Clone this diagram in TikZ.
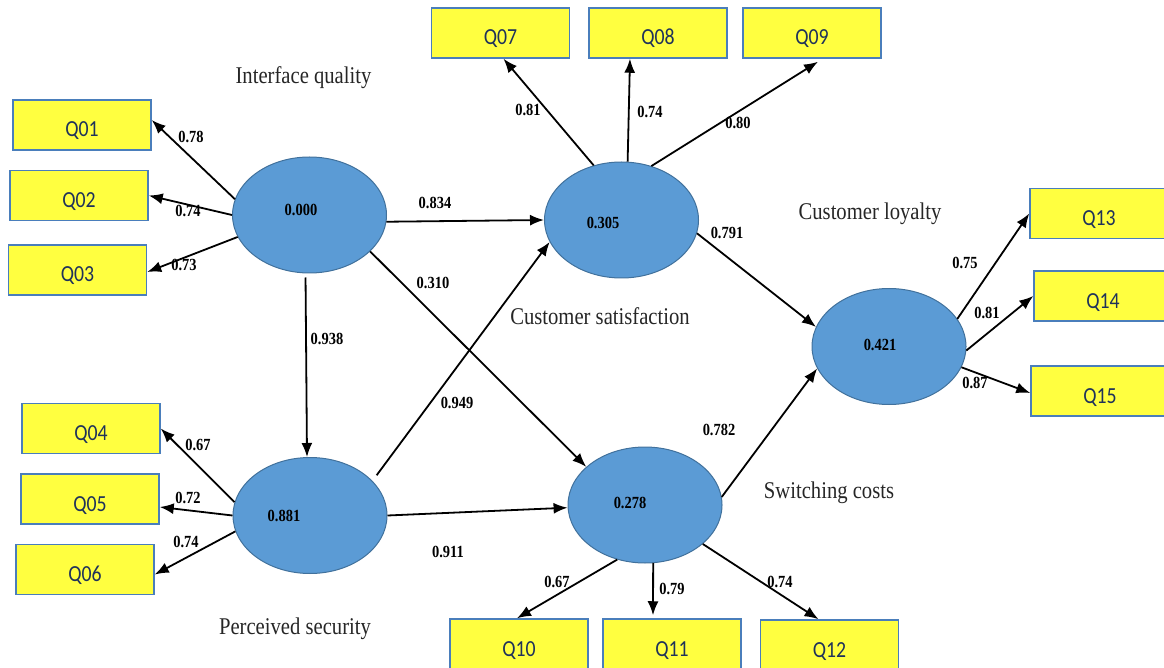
\documentclass[tikz,border=0pt]{standalone}
\usepackage{fontspec}
\setmainfont{Liberation Serif}
\newfontfamily\qfont{Carlito}
\usetikzlibrary{shapes.geometric,arrows.meta}
\definecolor{ellfill}{RGB}{91,155,213}
\definecolor{ellline}{RGB}{65,113,156}
\definecolor{boxfill}{RGB}{255,255,64}
\definecolor{boxline}{RGB}{74,126,187}
\definecolor{qtext}{RGB}{31,50,90}
\newcommand{\hsq}[2][0.85]{\scalebox{#1}[1]{#2}}
\newcommand{\qlab}[1]{\raisebox{-12pt}[0pt][0pt]{\scalebox{0.86}[1]{#1}}}
\begin{document}
\begin{tikzpicture}[x=1pt,y=-1pt,
 latent/.style={ellipse, draw=ellline, line width=1pt, fill=ellfill, minimum width=154pt, minimum height=116pt, inner sep=0pt},
 ind/.style={rectangle, draw=boxline, line width=1.5pt, fill=boxfill, minimum width=138pt, minimum height=50pt, inner sep=0pt, font=\qfont\fontsize{23}{23}\selectfont, text=qtext},
 coef/.style={font=\bfseries\fontsize{17}{17}\selectfont, inner sep=0pt},
 ttl/.style={font=\fontsize{24}{24}\selectfont, inner sep=0pt, text=black!85},
 arr/.style={-{Latex[length=14pt,width=11pt]}, line width=1.8pt}]
\useasboundingbox (0,0) rectangle (1164,668);

% indicator boxes
\node[ind] (q01) at (82,125) {\qlab{Q01}};
\node[ind] (q02) at (79,195.5) {\qlab{Q02}};
\node[ind] (q03) at (77.5,270) {\qlab{Q03}};
\node[ind] (q04) at (91,428.5) {\qlab{Q04}};
\node[ind] (q05) at (90,499) {\qlab{Q05}};
\node[ind] (q06) at (85,569.5) {\qlab{Q06}};
\node[ind] (q07) at (500.5,33) {\qlab{Q07}};
\node[ind] (q08) at (658,33) {\qlab{Q08}};
\node[ind] (q09) at (812,33) {\qlab{Q09}};
\node[ind] (q10) at (519,644) {\qlab{Q10}};
\node[ind] (q11) at (672,644) {\qlab{Q11}};
\node[ind] (q12) at (829.5,645) {\qlab{Q12}};
\node[ind] (q13) at (1099,213.5) {\qlab{Q13}};
\node[ind] (q14) at (1103,296) {\qlab{Q14}};
\node[ind] (q15) at (1100,391) {\qlab{Q15}};

% latent variables
\node[latent] (e1) at (309.5,215) {};
\node[latent] (e2) at (310,515.5) {};
\node[latent] (e3) at (621.5,220) {};
\node[latent] (e4) at (645,505) {};
\node[latent] (e5) at (889,346.5) {};

\node[coef] (v1) at (301,210) {\hsq{0.000}};
\node[coef] (v2) at (284,516) {\hsq{0.881}};
\node[coef] (v3) at (603,223) {\hsq{0.305}};
\node[coef] (v4) at (630,503) {\hsq{0.278}};
\node[coef] (v5) at (880,345) {\hsq{0.421}};

% titles
\node[ttl] (t1) at (303.5,78) {\hsq[0.86]{Interface quality}};
\node[ttl] (t2) at (600,316) {\hsq[0.86]{Customer satisfaction}};
\node[ttl] (t3) at (870,214) {\hsq[0.86]{Customer loyalty}};
\node[ttl] (t4) at (829,493) {\hsq[0.86]{Switching costs}};
\node[ttl] (t5) at (295,629) {\hsq[0.86]{Perceived security}};

% measurement arrows
\draw[arr] (e1.168) -- ([yshift=5pt]q01.east);
\draw[arr] (e1.180) -- (q02.east);
\draw[arr] (e1.197) -- ([yshift=-2pt]q03.east);
\draw[arr] (e2.170) -- (q04.east);
\draw[arr] (e2.180) -- ([yshift=-8pt]q05.east);
\draw[arr] (e2.192) -- ([yshift=-5pt]q06.east);
\draw[arr] (e3.117) -- ([xshift=3pt]q07.south);
\draw[arr] (e3.84) -- ([xshift=-28pt]q08.south);
\draw[arr] (e3.61) -- ([xshift=6pt,yshift=-3pt]q09.south);
\draw[arr] (e4.243) -- ([xshift=-2pt]q10.north);
\draw[arr] (e4.278) -- ([xshift=-19pt,yshift=3pt]q11.north);
\draw[arr] (e4.326) -- ([xshift=-11pt]q12.north);
\draw[arr] (e5.22) -- (q13.west);
\draw[arr] (e5.357) -- (q14.west);
\draw[arr] (e5.344) -- ([yshift=-2pt]q15.west);

% structural arrows
\draw[arr] (e1.355) -- (e3.west);
\draw[arr] (e1.329) -- (e4.147);
\draw[arr, shorten <=4pt] ([xshift=-4pt]e1.south) -- ([xshift=-3pt]e2.north);
\draw[arr, shorten <=7pt] (e2.29) -- (e3.197);
\draw[arr] (e2.east) -- (e4.182);
\draw[arr] (e3.350) -- (e5.165);
\draw[arr] (e4.6) -- (e5.197);

% coefficients
\node[coef] (c01) at (191,137) {\hsq{0.78}};
\node[coef] (c02) at (188,211) {\hsq{0.74}};
\node[coef] (c03) at (184,265) {\hsq{0.73}};
\node[coef] (c04) at (198,445) {\hsq{0.67}};
\node[coef] (c05) at (188,498) {\hsq{0.72}};
\node[coef] (c06) at (186,542) {\hsq{0.74}};
\node[coef] (c07) at (528,110) {\hsq{0.81}};
\node[coef] (c08) at (650,112) {\hsq{0.74}};
\node[coef] (c09) at (738,123) {\hsq{0.80}};
\node[coef] (c10) at (557,582) {\hsq{0.67}};
\node[coef] (c11) at (672,589) {\hsq{0.79}};
\node[coef] (c12) at (780,582) {\hsq{0.74}};
\node[coef] (c13) at (965,263) {\hsq{0.75}};
\node[coef] (c14) at (987,313) {\hsq{0.81}};
\node[coef] (c15) at (975,383) {\hsq{0.87}};
\node[coef] (s1) at (435,203) {\hsq{0.834}};
\node[coef] (s2) at (433,283) {\hsq{0.310}};
\node[coef] (s3) at (327,339) {\hsq{0.938}};
\node[coef] (s4) at (457,403) {\hsq{0.949}};
\node[coef] (s5) at (448,552) {\hsq{0.911}};
\node[coef] (s6) at (727,233) {\hsq{0.791}};
\node[coef] (s7) at (719,430) {\hsq{0.782}};
\end{tikzpicture}
\end{document}
